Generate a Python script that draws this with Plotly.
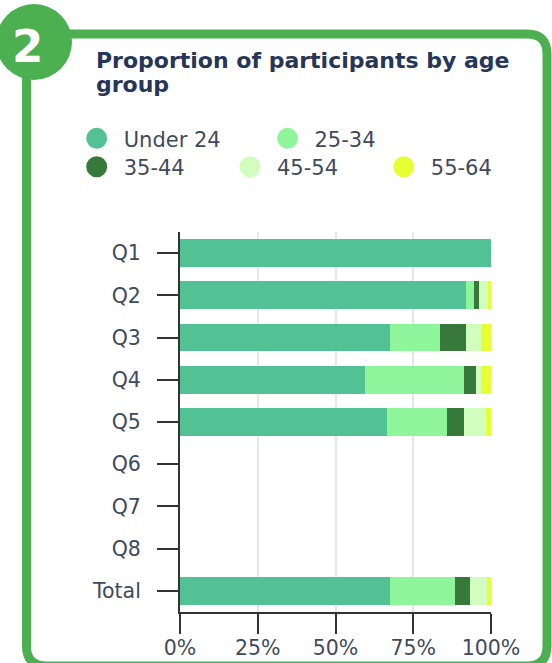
import plotly.graph_objects as go

# ---------------- data ----------------
categories = ["Q1", "Q2", "Q3", "Q4", "Q5", "Q6", "Q7", "Q8", "Total"]
age_groups = ["Under 24", "25-34", "35-44", "45-54", "55-64"]
under_24 = [100.0, 92.1, 67.4, 59.6, 66.6, None, None, None, 67.5]
age_25_34 = [0.0, 2.3, 16.1, 31.7, 19.3, None, None, None, 21.0]
age_35_44 = [0.0, 1.6, 8.6, 4.0, 5.4, None, None, None, 4.6]
age_45_54 = [0.0, 3.0, 4.8, 1.6, 7.0, None, None, None, 5.5]
age_55_64 = [0.0, 1.0, 3.1, 3.1, 1.7, None, None, None, 1.4]
x_tick_values = [0, 25, 50, 75, 100]
x_tick_labels = ["0%", "25%", "50%", "75%", "100%"]
title_lines = ["Proportion of participants by age", "group"]
badge_text = "2"

series = [under_24, age_25_34, age_35_44, age_45_54, age_55_64]
colors = ["#52c193", "#8ff59b", "#37793a", "#d1fdbe", "#e6ff33"]

# ---------------- layout constants ----------------
W, H = 552, 663
ML, MR, MT, MB = 180, 61, 232, 51
PW, PH = W - ML - MR, H - MT - MB
GREEN = "#4caf50"
TXT = "#3f4a5c"
TITLE = "#263659"
FONT = "DejaVu Sans"


def px(x):
    return (x - ML) / PW


def py(y):
    return 1 - (y - MT) / PH


fig = go.Figure()

for name, vals, col in zip(age_groups, series, colors):
    fig.add_trace(go.Bar(
        y=categories, x=vals, name=name, orientation="h",
        marker=dict(color=col, line=dict(width=0)),
        showlegend=False,
    ))

# legend proxies (one legend per entry to reproduce the wrapped layout)
legend_slots = [(69.7, 118.2), (260.5, 118.2), (69.7, 146.6), (223.0, 146.6), (376.8, 146.6)]
legend_keys = ["legend", "legend2", "legend3", "legend4", "legend5"]
for name, col, key in zip(age_groups, colors, legend_keys):
    fig.add_trace(go.Scatter(
        x=[None], y=[None], mode="markers", name=name, legend=key,
        marker=dict(symbol="circle", size=16, color=col, line=dict(color=col, width=5)),
        showlegend=True, hoverinfo="skip",
    ))

legend_layout = {}
for key, (lx, ly) in zip(legend_keys, legend_slots):
    legend_layout[key] = dict(
        x=px(lx), y=py(ly), xanchor="left", yanchor="top",
        orientation="h", bgcolor="rgba(0,0,0,0)", borderwidth=0,
        itemwidth=44, itemsizing="trace",
        font=dict(family=FONT, size=21, color=TXT),
        itemclick=False, itemdoubleclick=False,
    )

# frame
L, R, T, B, r = 26.5, 547, 34, 666, 20
frame_path = (
    f"M {px(L + r)},{py(T)} L {px(R - r)},{py(T)} Q {px(R)},{py(T)} {px(R)},{py(T + r)} "
    f"L {px(R)},{py(B - r)} Q {px(R)},{py(B)} {px(R - r)},{py(B)} "
    f"L {px(L + r)},{py(B)} Q {px(L)},{py(B)} {px(L)},{py(B - r)} "
    f"L {px(L)},{py(T + r)} Q {px(L)},{py(T)} {px(L + r)},{py(T)} Z"
)
cx, cy, cr = 34, 42, 38
shapes = [
    dict(type="path", xref="paper", yref="paper", path=frame_path,
         line=dict(color=GREEN, width=9), fillcolor="rgba(0,0,0,0)", layer="below"),
    dict(type="circle", xref="paper", yref="paper",
         x0=px(cx - cr), x1=px(cx + cr), y0=py(cy + cr), y1=py(cy - cr),
         line=dict(color=GREEN, width=0), fillcolor=GREEN, layer="above"),
]

annotations = [
    dict(text=f"<b>{badge_text}</b>", xref="paper", yref="paper", x=px(27), y=py(46),
         xanchor="center", yanchor="middle", showarrow=False,
         font=dict(family=FONT, size=45, color="white")),
    dict(text=f"<b>{title_lines[0]}</b>", xref="paper", yref="paper", x=px(94), y=py(60.4),
         xanchor="left", yanchor="middle", showarrow=False,
         font=dict(family=FONT, size=22, color=TITLE)),
    dict(text=f"<b>{title_lines[1]}</b>", xref="paper", yref="paper", x=px(94), y=py(84.9),
         xanchor="left", yanchor="middle", showarrow=False,
         font=dict(family=FONT, size=22, color=TITLE)),
]

fig.update_layout(
    width=W, height=H,
    margin=dict(l=ML, r=MR, t=MT, b=MB, autoexpand=False),
    paper_bgcolor="white", plot_bgcolor="white",
    barmode="stack", bargap=0.344,
    shapes=shapes, annotations=annotations,
    font=dict(family=FONT, color=TXT),
    **legend_layout,
)

fig.update_xaxes(
    range=[0, 100], tickvals=x_tick_values, ticktext=x_tick_labels,
    showgrid=True, gridcolor="#e6e6e6", gridwidth=1.5, zeroline=False,
    showline=True, linecolor="#333333", linewidth=2,
    ticks="outside", ticklen=20, tickwidth=2, tickcolor="#333333",
    ticklabelstandoff=-4,
    tickfont=dict(family=FONT, size=20.5, color=TXT), fixedrange=True,
)
fig.update_yaxes(
    type="category", categoryorder="array", categoryarray=categories,
    autorange="reversed", showgrid=False, zeroline=False,
    showline=True, linecolor="#333333", linewidth=2,
    ticks="outside", ticklen=21, tickwidth=2, tickcolor="#333333",
    ticklabelstandoff=12,
    tickfont=dict(family=FONT, size=20.5, color=TXT), fixedrange=True,
)

fig.write_html("out.html", config={"displayModeBar": False})
